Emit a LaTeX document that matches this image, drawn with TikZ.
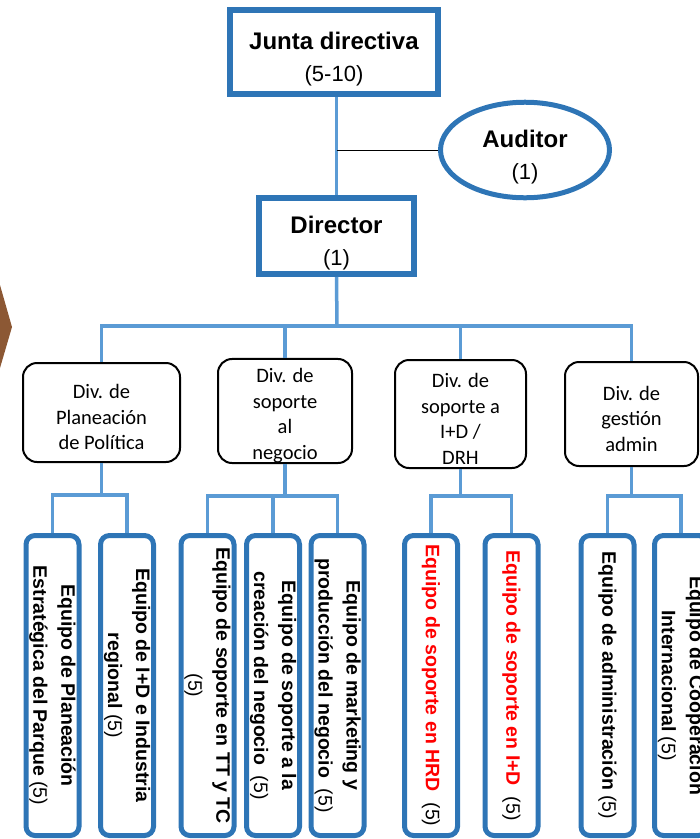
\documentclass[tikz,border=0pt]{standalone}
\usepackage{fontspec}
\setmainfont{Liberation Sans}
\newfontfamily\calibri{Carlito}
\usetikzlibrary{shapes.geometric, positioning}
\definecolor{boxblue}{RGB}{46,117,182}
\definecolor{lineblue}{RGB}{91,155,213}
\definecolor{chevron}{RGB}{140,88,52}

\begin{document}
\begin{tikzpicture}[x=1pt, y=-1pt,
  head/.style={draw=boxblue, line width=6pt, inner sep=0pt, align=center,
               font=\fontsize{24}{32}\selectfont},
  divbox/.style={draw, line width=2pt, rounded corners=14pt, inner sep=0pt,
                 align=center, font=\calibri\fontsize{20.5}{25.5}\selectfont},
  team/.style={draw=boxblue, line width=5pt, rounded corners=9pt, rotate=-90,
               minimum width=300pt, minimum height=53pt, inner sep=0pt,
               align=center, font=\bfseries\fontsize{19.5}{28}\selectfont},
  conn/.style={draw=lineblue, line width=3.5pt},
  thinline/.style={draw=black, line width=1pt}]
\useasboundingbox (0,0) rectangle (700,839);
\clip (0,0) rectangle (700,839);

% brown tip on the left edge
\fill[chevron] (0,285) -- (12,327) -- (0,368) -- cycle;

% top level
\node[head, minimum width=208pt, minimum height=84pt] (junta) at (334, 52)
  {\rule{0pt}{31pt}\textbf{Junta directiva}\\{\fontsize{22}{32}\selectfont (5-10)}};
\node[head, minimum width=155pt, minimum height=76pt] (director) at (336.5, 236)
  {\rule{0pt}{31pt}\textbf{Director}\\{\fontsize{22}{32}\selectfont (1)}};
\node[head, ellipse, line width=5pt, minimum width=169pt, minimum height=89pt] (auditor) at (525, 150)
  {\rule{0pt}{31pt}\textbf{Auditor}\\{\fontsize{22}{32}\selectfont (1)}};

% divisions
\node[divbox, minimum width=157pt, minimum height=99pt] (div1) at (101.5, 412.5) {\rule{0pt}{24pt}Div. de\\Planeación\\de Política};
\node[divbox, minimum width=134pt, minimum height=102pt] (div2) at (285, 411) {\rule{0pt}{24pt}Div. de\\soporte\\al\\negocio};
\node[divbox, minimum width=131pt, minimum height=108pt] (div3) at (460.5, 414) {\rule{0pt}{24pt}Div. de\\soporte a\\I+D /\\DRH};
\node[divbox, minimum width=133pt, minimum height=104pt] (div4) at (631.5, 414) {\rule{0pt}{24pt}Div. de\\gestión\\admin};

% teams
\node[team] (t1) at (52.5, 685.5) {Equipo de Planeación\\Estratégica del Parque {\mdseries(5)}};
\node[team] (t2) at (127, 685.5) {Equipo de I+D e Industria\\regional {\mdseries(5)}};
\node[team] (t3) at (207.5, 685.5) {Equipo de soporte en TT y TC\\{\mdseries(5)}};
\node[team] (t4) at (273, 685.5) {Equipo de soporte a la\\creación del negocio\ \ {\mdseries(5)}};
\node[team] (t5) at (337.5, 685.5) {Equipo de marketing y\\producción del negocio\ \ {\mdseries(5)}};
\node[team] (t6) at (431, 685.5) {{\color{red}Equipo de soporte en HRD}\ \ {\mdseries(5)}};
\node[team] (t7) at (511.5, 685.5) {{\color{red}Equipo de soporte en I+D}\ \ {\mdseries(5)}};
\node[team] (t8) at (607.5, 685.5) {Equipo de administración {\mdseries(5)}};
\node[team] (t9) at (681, 685.5) {Equipo de Cooperación\\Internacional {\mdseries(5)}};

% connectors top
\draw[conn] (junta.south -| director.north) -- (director.north);
\draw[thinline] (director.north |- auditor.west) -- (auditor.west);

\coordinate (bus) at (337, 326);
\draw[conn] (director.south) -- (bus);
\draw[conn] (div1.north) |- (bus) -| (div4.north);
\draw[conn] (div2.north) -- (div2.north |- bus);
\draw[conn] (div3.north) -- (div3.north |- bus);

% connectors down to the teams
\coordinate (sub1) at (div1.south |- 0,495);
\coordinate (sub2) at (div2.south |- 0,496);
\coordinate (sub3) at (div3.south |- 0,496);
\coordinate (sub4) at (div4.south |- 0,496);
\draw[conn] (div1.south) -- (sub1);
\draw[conn] (t1.west) |- (sub1) -| (t2.west);
\draw[conn] (div2.south) -- (sub2);
\draw[conn] (t3.west) |- (sub2) -| (t5.west);
\draw[conn] (t4.west) -- (t4.west |- sub2);
\draw[conn] (div3.south) -- (sub3);
\draw[conn] (t6.west) |- (sub3) -| (t7.west);
\draw[conn] (div4.south) -- (sub4);
\draw[conn] (t8.west) |- (sub4) -| (t9.west);

\end{tikzpicture}
\end{document}
